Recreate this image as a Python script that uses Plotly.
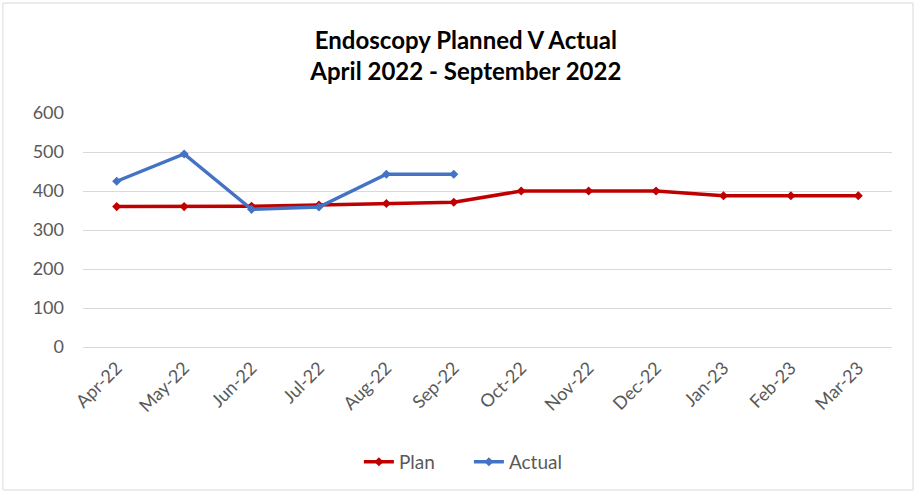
import plotly.graph_objects as go

months = ["Apr-22", "May-22", "Jun-22", "Jul-22", "Aug-22", "Sep-22",
          "Oct-22", "Nov-22", "Dec-22", "Jan-23", "Feb-23", "Mar-23"]
plan = [360, 360, 361, 364, 368, 371, 400, 400, 400, 388, 388, 388]
actual = [425, 495, 353, 359, 443, 443]

FONT = "Lato"
TICK_COLOR = "#595959"

fig = go.Figure()
fig.add_trace(go.Scatter(
    x=months, y=plan, name="Plan", mode="lines+markers",
    line=dict(color="#C00000", width=3.5),
    marker=dict(symbol="diamond", size=7, color="#C00000"),
))
fig.add_trace(go.Scatter(
    x=months[:len(actual)], y=actual, name="Actual", mode="lines+markers",
    line=dict(color="#4472C4", width=3.5),
    marker=dict(symbol="diamond", size=7, color="#4472C4"),
))

fig.update_layout(
    width=917, height=493,
    margin=dict(l=83, r=25, t=113, b=146, autoexpand=False),
    paper_bgcolor="white", plot_bgcolor="white",
    font=dict(family=FONT, color=TICK_COLOR, size=17),
    title=dict(
        text="<b>Endoscopy Planned V Actual<br>April 2022 - September 2022</b>",
        x=0.508, xanchor="center", y=0.901, yanchor="middle",
        font=dict(family=FONT, size=24, color="#000000"),
    ),
    xaxis=dict(
        type="category", categoryorder="array", categoryarray=months,
        range=[-0.5, len(months) - 0.5],
        tickangle=-45, showgrid=False, showline=False, zeroline=False,
        ticks="", automargin=False, ticklabelstandoff=6,
        tickfont=dict(size=18, color=TICK_COLOR),
    ),
    yaxis=dict(
        range=[0, 600], tickvals=[0, 100, 200, 300, 400, 500, 600],
        showgrid=True, gridcolor="#D9D9D9", gridwidth=1,
        zeroline=True, zerolinecolor="#D9D9D9", zerolinewidth=1,
        showline=False, ticks="", ticklabelstandoff=18, automargin=False,
        tickfont=dict(size=18, color=TICK_COLOR),
    ),
    legend=dict(
        orientation="h", x=0.477, xanchor="center", y=-0.491, yanchor="middle",
        entrywidth=65, entrywidthmode="pixels",
        font=dict(size=19, color=TICK_COLOR),
    ),
    shapes=[dict(type="rect", xref="paper", yref="paper",
                 x0=-0.099, x1=1.026, y0=-0.611, y1=1.47,
                 line=dict(color="#D9D9D9", width=1))],
)

fig.write_html("out.html")
